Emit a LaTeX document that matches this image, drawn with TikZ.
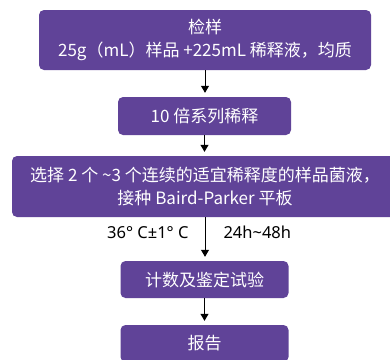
\documentclass[tikz,border=0pt]{standalone}
\usepackage{fontspec}
\setmainfont{Noto Sans CJK SC}
\newfontfamily\latinfont{Noto Sans}
\usetikzlibrary{arrows.meta,positioning}
\definecolor{stepviolet}{RGB}{96,67,152}

\begin{document}
\begin{tikzpicture}[x=1pt, y=-1pt,
    flowbox/.style={fill=stepviolet, rounded corners=5pt, text=white, align=center,
      inner sep=0pt, font=\fontsize{17}{22.5}\selectfont},
    flowarrow/.style={-{Triangle[length=7pt,width=8pt]}, line width=1pt, shorten >=4pt},
    steplabel/.style={font=\latinfont\fontsize{16.5}{20}\selectfont, inner sep=0pt}]
    % frame
    \useasboundingbox (0,0) rectangle (390,359);
    \clip (0,0) rectangle (390,359);
    % boxes
    \node[flowbox, minimum width=332pt, minimum height=60pt] (sample) at (205,40)
        {检样\\25g（mL）样品 +225mL 稀释液，均质};
    \node[flowbox, minimum width=173pt, minimum height=38pt] (dilute) at (204.5,116)
        {10 倍系列稀释};
    \node[flowbox, minimum width=386pt, minimum height=61pt] (plate) at (205,186.5)
        {选择 2 个 \textasciitilde3 个连续的适宜稀释度的样品菌液，\\接种 Baird-Parker 平板};
    \node[flowbox, minimum width=168pt, minimum height=37pt] (count) at (204.5,279.5)
        {计数及鉴定试验};
    \node[flowbox, minimum width=168pt, minimum height=37pt] (report) at (204.5,343.5)
        {报告};
    % arrows
    \draw[flowarrow] (sample.south) -- (sample.south |- dilute.north);
    \draw[flowarrow] (dilute.south) -- (dilute.south |- plate.north);
    \draw[flowarrow] (plate.south) -- (plate.south |- count.north)
        node[steplabel, pos=0.35, left=16pt] (temp) {36° C±1° C}
        node[steplabel, pos=0.35, right=18pt] (time) {24h\textasciitilde48h};
    \draw[flowarrow] (count.south) -- (count.south |- report.north);
\end{tikzpicture}
\end{document}
